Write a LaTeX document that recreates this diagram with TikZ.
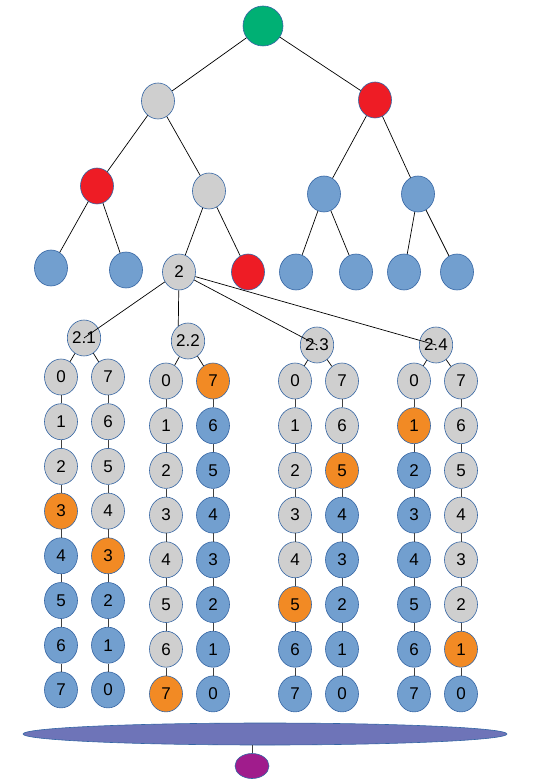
\documentclass[tikz,border=0pt]{standalone}
\usepackage{fontspec}
\setmainfont{Liberation Sans}
\usepackage{xcolor}
\usetikzlibrary{shapes.geometric, backgrounds}
\definecolor{nodegray}{HTML}{CFCFCF}
\definecolor{nodeblue}{HTML}{729FCF}
\definecolor{nodeborder}{HTML}{3465A4}
\definecolor{nodeorange}{HTML}{F28A24}
\definecolor{nodered}{HTML}{EE1C25}
\definecolor{nodegreen}{HTML}{00B074}
\definecolor{nodepurple}{HTML}{A01C8C}
\definecolor{basecol}{HTML}{6E74B8}

\begin{document}
\begin{tikzpicture}[x=1pt, y=-1pt,
    vtx/.style={ellipse, draw=nodeborder, line width=0.6pt, minimum width=33pt, minimum height=36pt, inner sep=0pt, font=\fontsize{17}{19}\selectfont},
    gr/.style={vtx, fill=nodegray},
    bl/.style={vtx, fill=nodeblue},
    rd/.style={vtx, fill=nodered},
    link/.style={line width=0.7pt, black},
    colline/.style={line width=0.9pt, black!75}]
      \fill[white] (0,0) rectangle (536,783);
      \useasboundingbox (0,0) rectangle (536,783);

      % tree
      \node[vtx, fill=nodegreen, minimum width=40pt, minimum height=40pt] (root) at (263,26) {};
      \node[gr] (a) at (158,101) {};
      \node[rd] (b) at (375,100) {};
      \node[rd] (aa) at (97,186) {};
      \node[gr] (ab) at (209,191) {};
      \node[bl] (ba) at (324,194) {};
      \node[bl] (bb) at (418,194) {};
      \node[bl] (aaa) at (51,268) {};
      \node[bl] (aab) at (126,270) {};
      \node[gr] (aba) at (179,272) {2};
      \node[rd] (abb) at (248,272) {};
      \node[bl] (baa) at (296,272) {};
      \node[bl] (bab) at (356,272) {};
      \node[bl] (bba) at (404,272) {};
      \node[bl] (bbb) at (457,272) {};
      \foreach \p/\c in {root/a, root/b, a/aa, a/ab, b/ba, b/bb, aa/aaa, aa/aab, ab/aba, ab/abb, ba/baa, ba/bab, bb/bba, bb/bbb}
        \draw[link] (\p) -- (\c);

      % sub-trees of node 2
      \foreach \g/\x/\y/\an in {1/84/338/center, 2/188/341/123, 3/317/345/center, 4/436/345/center} {
        \node[gr, inner xsep=0pt] (s\g) at (\x,\y) {2.\g};
        \draw[link] (aba) -- (s\g.\an);
      }

      % columns (orange row of the left and right column)
      \foreach \g/\xl/\xr/\yt/\oL/\oR in {1/61/108/377/3/4, 2/166/213/381/7/0, 3/295/342/381/5/2, 4/414/461/381/1/6} {
        \foreach \r in {0,...,7} {
          \pgfmathsetmacro\yy{\yt+44.7*\r}
          \pgfmathtruncatemacro\rr{7-\r}
          \ifnum\r<\oL \def\colL{nodegray}\else\ifnum\r=\oL \def\colL{nodeorange}\else\def\colL{nodeblue}\fi\fi
          \ifnum\r<\oR \def\colR{nodegray}\else\ifnum\r=\oR \def\colR{nodeorange}\else\def\colR{nodeblue}\fi\fi
          \node[vtx, fill=\colL] (l\g-\r) at (\xl,\yy) {\r};
          \node[vtx, fill=\colR] (r\g-\r) at (\xr,\yy) {\rr};
        }
        \draw[link] (s\g) -- (l\g-0);
        \draw[link] (s\g) -- (r\g-0);
        \foreach \r [count=\n] in {0,...,6} {
          \draw[colline] (l\g-\r) -- (l\g-\n);
          \draw[colline] (r\g-\r) -- (r\g-\n);
        }
      }

      % base and sink
      \node[ellipse, draw=nodeborder, line width=0.6pt, fill=basecol, minimum width=484pt, minimum height=22pt, inner sep=0pt] (base) at (265,734) {};
      \node[ellipse, draw=nodeborder, line width=0.6pt, fill=nodepurple, minimum width=34pt, minimum height=25pt, inner sep=0pt] (sink) at (252,766) {};
      \draw[colline] (sink) -- (sink |- base.south);
      \begin{scope}[on background layer]
        \foreach \g in {1,...,4} {
          \draw[colline] (l\g-7) -- (l\g-7 |- base);
          \draw[colline] (r\g-7) -- (r\g-7 |- base);
        }
      \end{scope}
\end{tikzpicture}
\end{document}
